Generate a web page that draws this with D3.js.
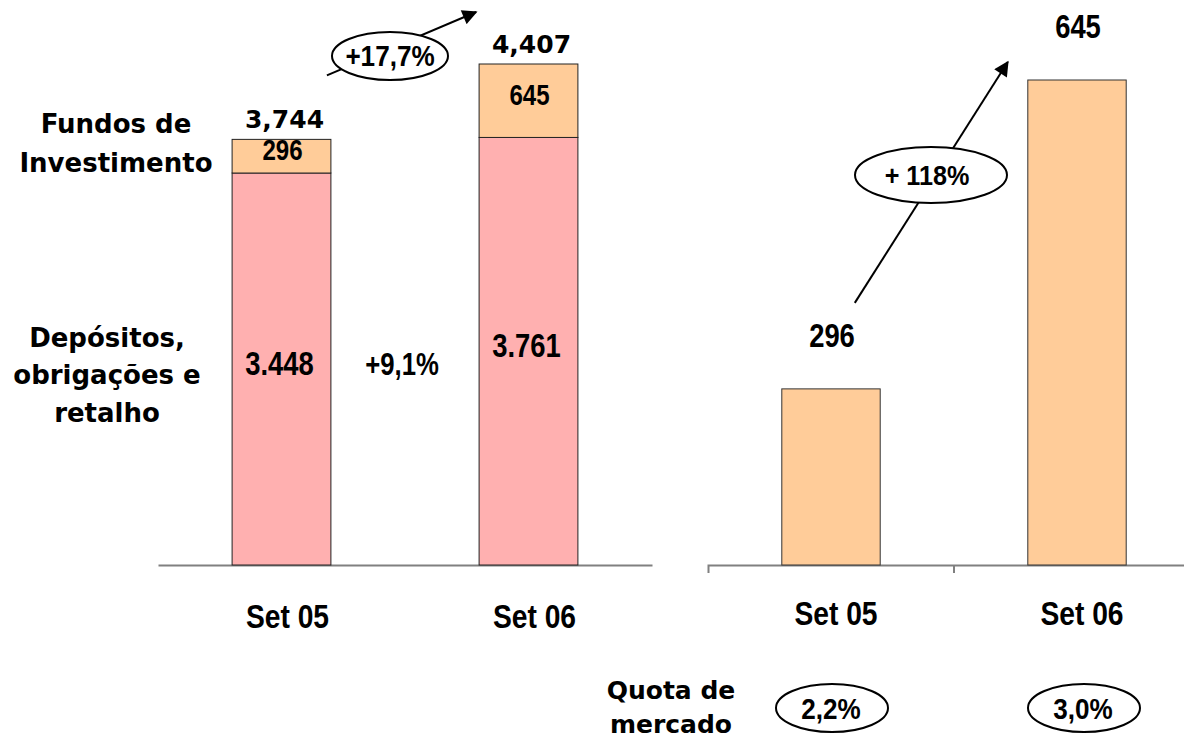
<!DOCTYPE html>
<html>
<head>
<meta charset="utf-8">
<script src="https://cdn.jsdelivr.net/npm/d3@7"></script>
<style>
  html, body { margin: 0; padding: 0; background: #fff; }
  svg { display: block; }
  .wide { font-family: "DejaVu Sans", Verdana, sans-serif; font-weight: bold; fill: #000; }
  .arial { font-family: "Liberation Sans", Arial, sans-serif; font-weight: bold; fill: #000; }
</style>
</head>
<body>
<svg id="chart" width="1184" height="740"></svg>
<script>
// ---- data ----
const categories = ["Set 05", "Set 06"];
const depositos = [3448, 3761];          // Depósitos, obrigações e retalho
const fundos = [296, 645];               // Fundos de Investimento
const totals = [3744, 4407];
const totalLabels = ["3,744", "4,407"];
const depositosLabels = ["3.448", "3.761"];
const fundosLabels = ["296", "645"];
const quotaLabels = ["2,2%", "3,0%"];
const growthTotal = "+17,7%";
const growthDepositos = "+9,1%";
const growthFundos = "+ 118%";
const rightAxisMin = 97;

const pink = "#FFB0B0", orange = "#FFCC99";

const svg = d3.select("#chart");
const defs = svg.append("defs");
defs.append("marker").attr("id", "arrow").attr("viewBox", "0 0 10 10")
  .attr("refX", 9).attr("refY", 5).attr("markerWidth", 17).attr("markerHeight", 15)
  .attr("markerUnits", "userSpaceOnUse").attr("orient", "auto")
  .append("path").attr("d", "M0,0 L10,5 L0,10 Z").attr("fill", "#000");

// condensed (horizontally scaled) bold text
function sText(g, x, y, size, str, sx) {
  return g.append("text").attr("class", "arial").attr("text-anchor", "middle")
    .attr("font-size", size)
    .attr("transform", `translate(${x},${y}) scale(${sx},1)`)
    .text(str);
}
const NARROW = 0.83, SEMI = 0.9;

const baseY = 565;

// ---- left chart ----
const xL = d3.scaleBand().domain(categories).range([158, 652]);
const yL = d3.scaleLinear().domain([0, 4407]).range([baseY, 64]);
const bwL = xL.bandwidth();
const barL = c => xL(c) + bwL * 0.3;
const barWL = bwL * 0.4;

const gL = svg.append("g");
const axL = gL.append("g").attr("transform", `translate(0,${baseY})`)
  .call(d3.axisBottom(xL).tickSize(0).tickSizeOuter(0).tickFormat(""));
axL.select(".domain").attr("stroke", "#808080").attr("stroke-width", 2);

categories.forEach((c, i) => {
  gL.append("rect").attr("x", barL(c)).attr("width", barWL)
    .attr("y", yL(depositos[i])).attr("height", yL(0) - yL(depositos[i]))
    .attr("fill", pink).attr("stroke", "#222").attr("stroke-width", 1);
  gL.append("rect").attr("x", barL(c)).attr("width", barWL)
    .attr("y", yL(totals[i])).attr("height", yL(depositos[i]) - yL(totals[i]))
    .attr("fill", orange).attr("stroke", "#222").attr("stroke-width", 1);
  const cx = xL(c) + bwL / 2;
  sText(gL, cx - 2, (yL(depositos[i]) + yL(0)) / 2 + 6, 33, depositosLabels[i], NARROW);
  sText(gL, cx + 1, (yL(totals[i]) + yL(depositos[i])) / 2 + 4, 29, fundosLabels[i], NARROW);
  gL.append("text").attr("class", "wide").attr("text-anchor", "middle")
    .attr("font-size", 25).attr("x", cx + 3).attr("y", yL(totals[i]) - 11)
    .text(totalLabels[i]);
  sText(gL, cx + 6, 628, 34, c, NARROW);
});

sText(gL, (xL(categories[0]) + xL(categories[1]) + bwL) / 2 - 3, 375, 31, growthDepositos, NARROW);

const lab1 = gL.append("text").attr("class", "wide").attr("text-anchor", "middle").attr("font-size", 26);
lab1.append("tspan").attr("x", 116).attr("y", 133).text("Fundos de");
lab1.append("tspan").attr("x", 116).attr("y", 172).text("Investimento");
const lab2 = gL.append("text").attr("class", "wide").attr("text-anchor", "middle").attr("font-size", 26);
lab2.append("tspan").attr("x", 107).attr("y", 347).text("Depósitos,");
lab2.append("tspan").attr("x", 107).attr("y", 384).text("obrigações e");
lab2.append("tspan").attr("x", 107).attr("y", 422).text("retalho");

const a1 = { x1: barL(categories[0]) + barWL - 4, y1: yL(totals[0]) - 64,
             x2: barL(categories[1]) - 3, y2: 12 };
gL.append("line").attr("x1", a1.x1).attr("y1", a1.y1).attr("x2", a1.x2).attr("y2", a1.y2)
  .attr("stroke", "#000").attr("stroke-width", 2).attr("marker-end", "url(#arrow)");
gL.append("ellipse").attr("cx", 390).attr("cy", 56).attr("rx", 58).attr("ry", 24)
  .attr("fill", "#fff").attr("stroke", "#000").attr("stroke-width", 2);
sText(gL, 390, 66, 29, growthTotal, SEMI);

// ---- right chart ----
const xR = d3.scaleBand().domain(categories).range([708, 1200]);
const yR = d3.scaleLinear().domain([rightAxisMin, 645]).range([baseY, 80]);
const bwR = xR.bandwidth();
const barR = c => xR(c) + bwR * 0.3;
const barWR = bwR * 0.4;
const gR = svg.append("g");
const axR = gR.append("g").attr("transform", `translate(0,${baseY})`)
  .call(d3.axisBottom(xR).tickSize(0).tickSizeOuter(8).tickFormat(""));
axR.select(".domain").attr("stroke", "#808080").attr("stroke-width", 2);
gR.append("line").attr("x1", xR(categories[1])).attr("x2", xR(categories[1]))
  .attr("y1", baseY).attr("y2", baseY + 8).attr("stroke", "#808080").attr("stroke-width", 2);

categories.forEach((c, i) => {
  const cx = xR(c) + bwR / 2;
  gR.append("rect").attr("x", barR(c)).attr("width", barWR)
    .attr("y", yR(fundos[i])).attr("height", yR(rightAxisMin) - yR(fundos[i]))
    .attr("fill", orange).attr("stroke", "#333").attr("stroke-width", 1);
  sText(gR, cx + 1, yR(fundos[i]) - 42, 33, fundosLabels[i], NARROW);
  sText(gR, cx + 5, 625, 34, c, NARROW);
  gR.append("ellipse").attr("cx", cx + 1 + i * 6).attr("cy", 708).attr("rx", 56).attr("ry", 24)
    .attr("fill", "#fff").attr("stroke", "#000").attr("stroke-width", 2);
  sText(gR, cx + i * 6, 719, 29, quotaLabels[i], SEMI);
});

const a2 = { x1: barR(categories[0]) + 73, y1: yR(fundos[0]) - 86,
             x2: barR(categories[1]) - 20, y2: 62 };
gR.append("line").attr("x1", a2.x1).attr("y1", a2.y1).attr("x2", a2.x2).attr("y2", a2.y2)
  .attr("stroke", "#000").attr("stroke-width", 2).attr("marker-end", "url(#arrow)");
gR.append("ellipse").attr("cx", 931).attr("cy", 175).attr("rx", 76).attr("ry", 28)
  .attr("fill", "#fff").attr("stroke", "#000").attr("stroke-width", 2);
sText(gR, 927, 185, 28, growthFundos, SEMI);

const lab3 = gR.append("text").attr("class", "wide").attr("text-anchor", "middle").attr("font-size", 25);
lab3.append("tspan").attr("x", 671).attr("y", 699).text("Quota de");
lab3.append("tspan").attr("x", 671).attr("y", 733).text("mercado");
</script>
</body>
</html>
